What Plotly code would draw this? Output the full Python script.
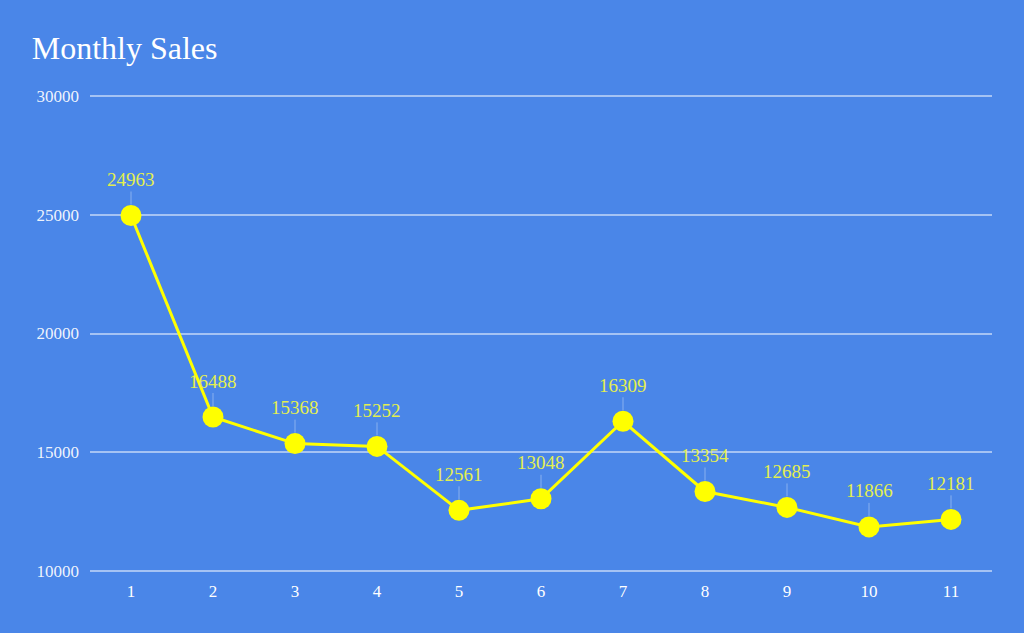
import plotly.graph_objects as go

months = ["1", "2", "3", "4", "5", "6", "7", "8", "9", "10", "11"]
sales = [24963, 16488, 15368, 15252, 12561, 13048, 16309, 13354, 12685, 11866, 12181]
y_ticks = [10000, 15000, 20000, 25000, 30000]

BG = "#4a86e8"
FONT = "Liberation Serif"

fig = go.Figure()
fig.add_trace(go.Scatter(
    x=months, y=sales, mode="lines+markers",
    line=dict(color="#ffff00", width=3),
    marker=dict(color="#ffff00", size=21),
    hoverinfo="x+y", showlegend=False,
))

for i, s in enumerate(sales):
    fig.add_annotation(
        x=i, y=s, text=str(s), showarrow=True,
        ax=0, ay=-36, arrowhead=0, arrowwidth=1,
        arrowcolor="rgba(255,255,255,0.35)", standoff=11,
        font=dict(family=FONT, size=19, color="#e4ef4f"),
    )

fig.update_layout(
    width=1024, height=633,
    paper_bgcolor=BG, plot_bgcolor=BG,
    margin=dict(l=90, r=32, t=91, b=57),
    title=dict(text="Monthly Sales", x=0.031, xanchor="left", y=0.925, yanchor="middle",
               font=dict(family=FONT, size=32, color="white")),
    xaxis=dict(type="category", categoryorder="array", categoryarray=months,
               range=[-0.5, 10.5], showgrid=False, zeroline=False, showline=False,
               tickfont=dict(family=FONT, size=17, color="white"), ticks="",
               ticklabelstandoff=3),
    yaxis=dict(range=[9800, 30200], tickvals=y_ticks, ticktext=[str(v) for v in y_ticks],
               showgrid=True,
               gridcolor="rgba(255,255,255,0.5)", gridwidth=1.5, zeroline=False,
               tickfont=dict(family=FONT, size=17, color="rgba(255,255,255,0.92)"), ticks="",
               ticklabelstandoff=10),
)

fig.write_html("out.html", config={"displayModeBar": False},
               post_script="document.body.style.margin='0';")
